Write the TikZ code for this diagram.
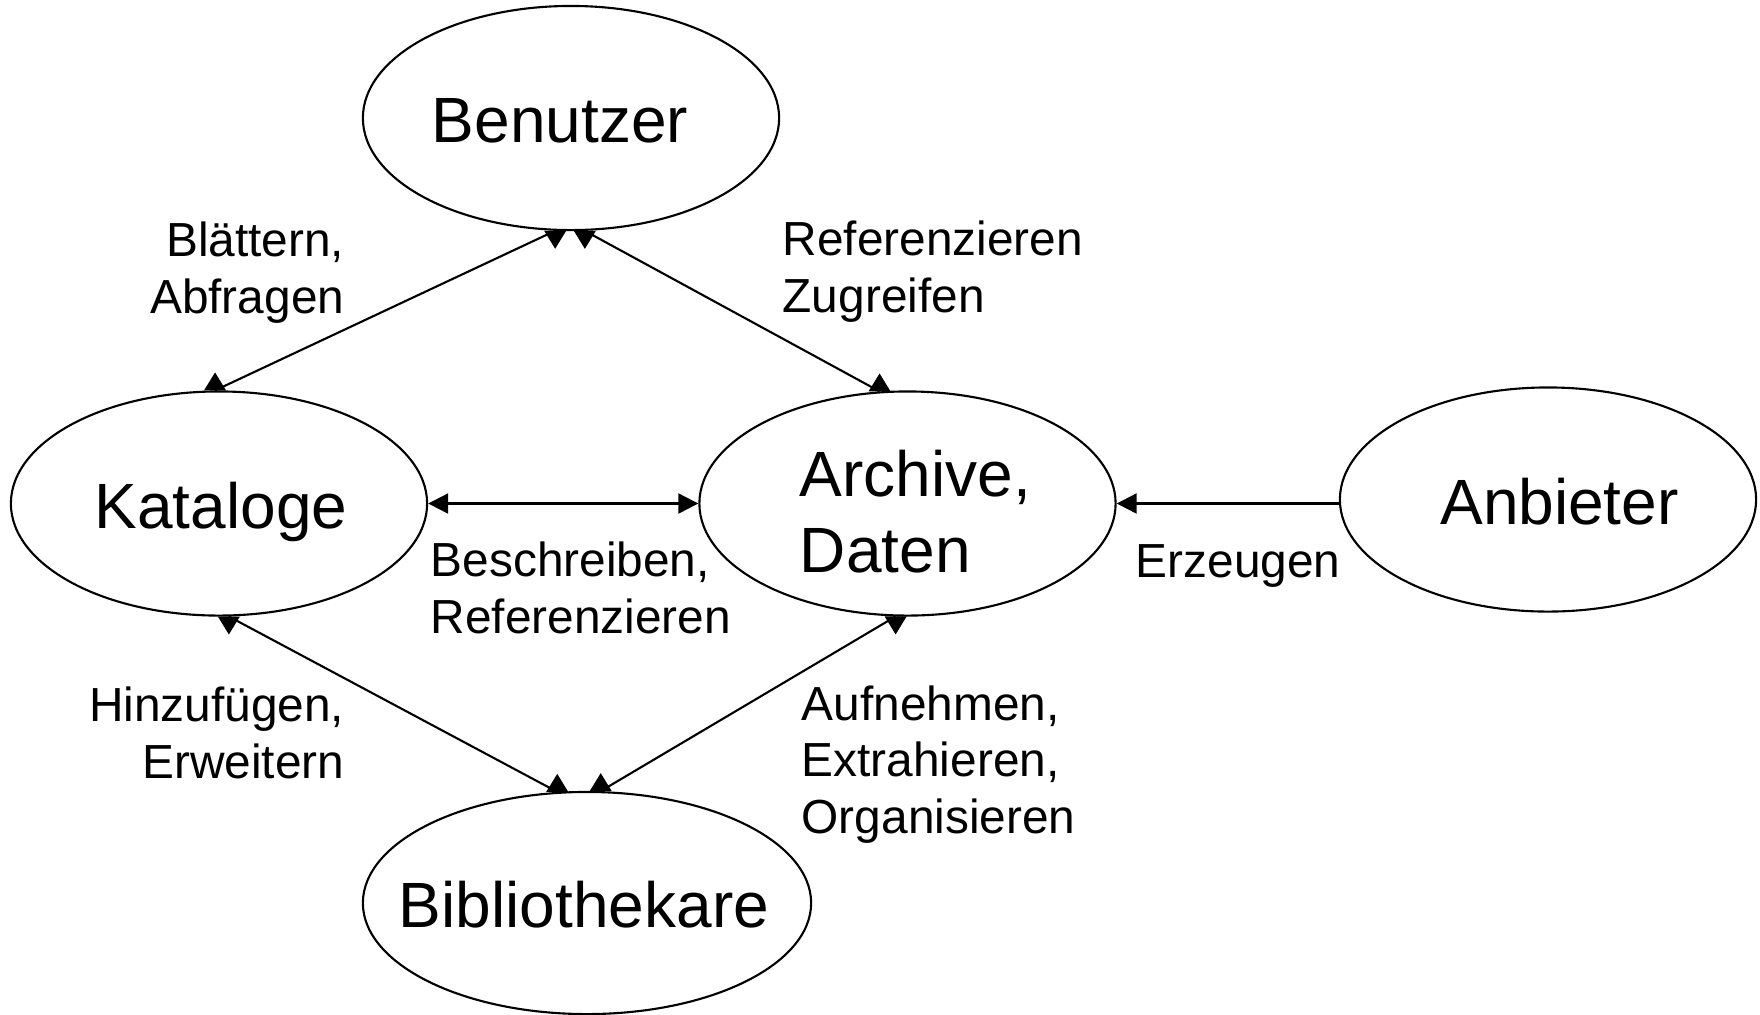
\documentclass[tikz,border=0pt]{standalone}
\usepackage{fontspec}
\setmainfont{Liberation Sans}
\usetikzlibrary{shapes.geometric,arrows.meta}
\begin{document}
\begin{tikzpicture}[x=0.01cm,y=-0.01cm,
  ent/.style={ellipse, draw, line width=0.6pt, inner sep=0pt,
    minimum width=4.16cm, minimum height=2.24cm,
    text height=0.49cm, text depth=0pt,
    font=\fontsize{18.2pt}{21.6pt}\selectfont},
  lbl/.style={inner sep=0pt, font=\fontsize{13.6pt}{15.94pt}\selectfont},
  conn/.style={line width=0.6pt},
  tipm/.style={-{Triangle[length=0.2cm,width=0.2cm]}},
  dbl/.style={conn, {Triangle[length=0.2cm,width=0.2cm]}-{Triangle[length=0.2cm,width=0.2cm]}},
  tip up/.pic={\fill (-11,0) -- (11,0) -- (0,-18) -- cycle;},
  tip down/.pic={\fill (-11,0) -- (11,0) -- (0,18) -- cycle;}
]
\useasboundingbox (0,0) rectangle (1760,1014);
\fill[white] (0,0) rectangle (1760,1014);

% entities
\node[ent] (ben) at (571,118) {\makebox[0pt]{Benutzer\hspace{0.22cm}}};
\node[ent] (kat) at (219,503.5) {\makebox[0pt]{\hspace{0.04cm}Kataloge}};
\node[ent, text height=1.37cm, align=left] (arc) at (907.5,503.5)
  {\makebox[0pt][l]{\hspace*{-1.075cm}Archive,}\\\makebox[0pt][l]{\hspace*{-1.075cm}Daten}};
\node[ent] (anb) at (1548,499.5) {\makebox[0pt]{\hspace{0.23cm}Anbieter}};
\node[ent, minimum width=4.48cm, minimum height=2.22cm] (bib) at (587,903)
  {\makebox[0pt]{Bibliothekare\hspace{0.06cm}}};

% connectors
\draw[dbl] (kat.east) -- (arc.west);
\draw[conn,tipm] (anb.west |- arc.east) -- (arc.east);
\draw[conn] (ben.262.9) -- (kat.92.1);
\draw[conn] (ben.277.1) -- (arc.104);
\draw[conn] (kat.275.6) -- (bib.105.3);
\draw[conn] (arc.264.6) -- (bib.83.3);

% vertical tips as in the original
\pic at (ben.262.9) {tip down};
\pic at (ben.277.1) {tip down};
\pic at (kat.92.1) {tip up};
\pic at (arc.104) {tip up};
\pic at (kat.275.6) {tip down};
\pic at (arc.264.6) {tip down};
\pic at (bib.105.3) {tip up};
\pic at (bib.83.3) {tip up};

% labels (base anchor = baseline of the last line)
\node[lbl, align=right, anchor=base east] (l1) at (345,313) {Blättern,\\Abfragen};
\node[lbl, align=left, anchor=base west] (l2) at (782,312) {Referenzieren\\Zugreifen};
\node[lbl, align=left, anchor=base west] (l3) at (430,633) {Beschreiben,\\Referenzieren};
\node[lbl, anchor=base west] (l4) at (1135,577) {Erzeugen};
\node[lbl, align=right, anchor=base east] (l5) at (345,778) {Hinzufügen,\\Erweitern};
\node[lbl, align=left, anchor=base west] (l6) at (801,833) {Aufnehmen,\\Extrahieren,\\Organisieren};
\end{tikzpicture}
\end{document}
